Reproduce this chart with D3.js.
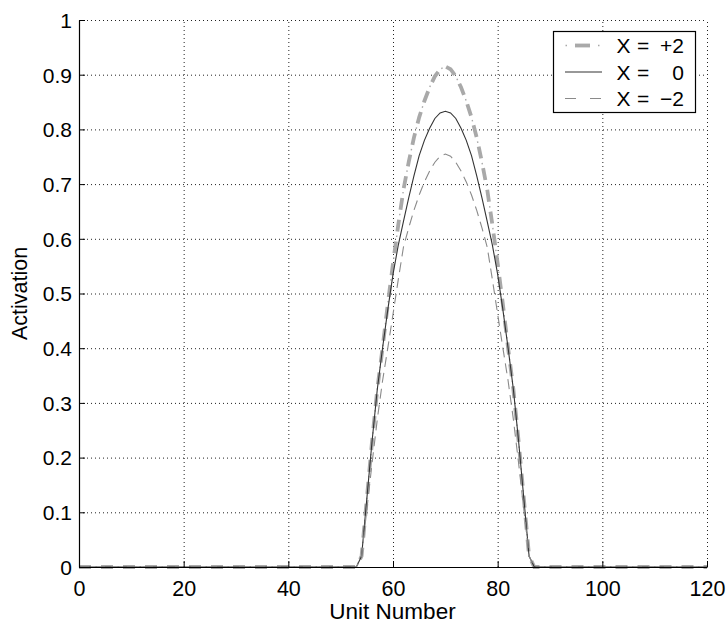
<!DOCTYPE html>
<html>
<head>
<meta charset="utf-8">
<script src="https://cdn.jsdelivr.net/npm/d3@7"></script>
<style>
  html, body { margin: 0; padding: 0; background: #fff; }
  svg { display: block; }
  text { font-family: "Liberation Sans", Arial, Helvetica, sans-serif; fill: #000; }
</style>
</head>
<body>
<svg id="chart" width="727" height="623"></svg>
<script>
// ---------------- data ----------------
const units = d3.range(0, 121); // unit numbers 0..120

const seriesPlus2 = [
  0,0,0,0,0,0,0,0,0,0,
  0,0,0,0,0,0,0,0,0,0,
  0,0,0,0,0,0,0,0,0,0,
  0,0,0,0,0,0,0,0,0,0,
  0,0,0,0,0,0,0,0,0,0,
  0,0,0,
  0,0.02,0.125,0.23,0.325,0.40,0.48,0.555,0.625,0.690,0.740,0.785,0.822,0.852,0.877,0.897,0.910,
  0.915,
  0.910,0.897,0.877,0.852,0.822,0.785,0.740,0.690,0.625,0.555,0.48,0.40,0.325,0.23,0.125,0.02,0,
  0,0,0,0,0,0,0,0,0,0,
  0,0,0,0,0,0,0,0,0,0,
  0,0,0,0,0,0,0,0,0,0,
  0,0,0
];

const seriesZero = [
  0,0,0,0,0,0,0,0,0,0,
  0,0,0,0,0,0,0,0,0,0,
  0,0,0,0,0,0,0,0,0,0,
  0,0,0,0,0,0,0,0,0,0,
  0,0,0,0,0,0,0,0,0,0,
  0,0,0,
  0,0.02,0.125,0.23,0.325,0.40,0.47,0.535,0.588,0.632,0.675,0.715,0.752,0.780,0.802,0.820,0.830,
  0.833,
  0.830,0.820,0.802,0.780,0.752,0.715,0.675,0.632,0.588,0.535,0.47,0.40,0.325,0.23,0.125,0.02,0,
  0,0,0,0,0,0,0,0,0,0,
  0,0,0,0,0,0,0,0,0,0,
  0,0,0,0,0,0,0,0,0,0,
  0,0,0
];

const seriesMinus2 = [
  0,0,0,0,0,0,0,0,0,0,
  0,0,0,0,0,0,0,0,0,0,
  0,0,0,0,0,0,0,0,0,0,
  0,0,0,0,0,0,0,0,0,0,
  0,0,0,0,0,0,0,0,0,0,
  0,0,0,
  0,0.02,0.105,0.19,0.27,0.34,0.40,0.462,0.525,0.585,0.620,0.652,0.680,0.704,0.724,0.740,0.751,
  0.755,
  0.751,0.740,0.724,0.704,0.680,0.652,0.620,0.585,0.525,0.462,0.40,0.34,0.27,0.19,0.105,0.02,0,
  0,0,0,0,0,0,0,0,0,0,
  0,0,0,0,0,0,0,0,0,0,
  0,0,0,0,0,0,0,0,0,0,
  0,0,0
];

const xTicks = [0, 20, 40, 60, 80, 100, 120];
const yTicks = [0, 0.1, 0.2, 0.3, 0.4, 0.5, 0.6, 0.7, 0.8, 0.9, 1];
const yTickLabels = ["0", "0.1", "0.2", "0.3", "0.4", "0.5", "0.6", "0.7", "0.8", "0.9", "1"];
const legendLabels = ["+2", "0", "\u22122"];
const xLabel = "Unit Number";
const yLabel = "Activation";

// ---------------- layout ----------------
const svg = d3.select("#chart");
const pL = 79, pR = 707, pT = 20, pB = 567;

const x = d3.scaleLinear().domain([0, 120]).range([pL, pR]);
const y = d3.scaleLinear().domain([0, 1]).range([pB, pT]);

// grid
const grid = svg.append("g").attr("class", "grid");
grid.append("g")
  .attr("transform", `translate(0,${pB})`)
  .call(d3.axisBottom(x).tickValues(xTicks).tickSize(-(pB - pT)).tickFormat(""))
  .call(g => g.select(".domain").remove())
  .call(g => g.selectAll("line").attr("stroke", "#222").attr("stroke-width", 1).attr("stroke-dasharray", "1,3"));
grid.append("g")
  .attr("transform", `translate(${pL},0)`)
  .call(d3.axisLeft(y).tickValues(yTicks).tickSize(-(pR - pL)).tickFormat(""))
  .call(g => g.select(".domain").remove())
  .call(g => g.selectAll("line").attr("stroke", "#222").attr("stroke-width", 1).attr("stroke-dasharray", "1,3"));

// lines
const line = (vals) => d3.line()
  .x((d, i) => x(units[i]))
  .y(d => y(d))
  .curve(d3.curveLinear)(vals);

// X = +2 : thick dashes plus thin dots (dash-dot)
svg.append("path")
  .attr("d", line(seriesPlus2))
  .attr("fill", "none")
  .attr("stroke", "#a9a9a9")
  .attr("stroke-width", 3.8)
  .attr("stroke-dasharray", "12,10");
svg.append("path")
  .attr("d", line(seriesPlus2))
  .attr("fill", "none")
  .attr("stroke", "#a9a9a9")
  .attr("stroke-width", 1.4)
  .attr("stroke-dasharray", "0,16.5,1.5,4");

// X = 0 : solid
svg.append("path")
  .attr("d", line(seriesZero))
  .attr("fill", "none")
  .attr("stroke", "#333333")
  .attr("stroke-width", 1.1);

// X = -2 : thin dashed
svg.append("path")
  .attr("d", line(seriesMinus2))
  .attr("fill", "none")
  .attr("stroke", "#8a8a8a")
  .attr("stroke-width", 1.1)
  .attr("stroke-dasharray", "10,6");

// axes
const xAxis = svg.append("g")
  .attr("transform", `translate(0,${pB})`)
  .call(d3.axisBottom(x).tickValues(xTicks).tickSizeInner(-6).tickSizeOuter(0));
xAxis.select(".domain").attr("stroke", "#000").attr("stroke-width", 1.2);
xAxis.selectAll(".tick line").attr("stroke", "#000");
xAxis.selectAll(".tick text")
  .attr("y", 28.5).attr("dy", null)
  .style("font-size", "21.5px")
  .style("font-family", '"Liberation Sans", Arial, sans-serif')
  .attr("fill", "#000");

const yAxis = svg.append("g")
  .attr("transform", `translate(${pL},0)`)
  .call(d3.axisLeft(y).tickValues(yTicks).tickSizeInner(-6).tickSizeOuter(0)
    .tickFormat((d, i) => yTickLabels[i]));
yAxis.select(".domain").attr("stroke", "#000").attr("stroke-width", 1.2);
yAxis.selectAll(".tick line").attr("stroke", "#000");
yAxis.selectAll(".tick text")
  .attr("x", -7).attr("dy", "0.35em")
  .style("font-size", "21px")
  .style("font-family", '"Liberation Sans", Arial, sans-serif')
  .attr("fill", "#000");

// axis labels
svg.append("text")
  .attr("x", (pL + pR) / 2 - 0.5).attr("y", 619)
  .attr("text-anchor", "middle")
  .style("font-size", "22.5px")
  .text(xLabel);

svg.append("text")
  .attr("transform", `translate(27,${(pT + pB) / 2}) rotate(-90)`)
  .attr("text-anchor", "middle")
  .style("font-size", "21.5px")
  .text(yLabel);

// legend
const lg = svg.append("g");
lg.append("rect")
  .attr("x", 553.5).attr("y", 31.5)
  .attr("width", 142).attr("height", 81)
  .attr("fill", "#fff").attr("stroke", "#000").attr("stroke-width", 1.2);

const rowY = [45.5, 72, 98.5];
// sample for +2: dot, thick dash, dot
lg.append("line")
  .attr("x1", 575).attr("x2", 590).attr("y1", rowY[0]).attr("y2", rowY[0])
  .attr("stroke", "#a9a9a9").attr("stroke-width", 3.8);
lg.append("line")
  .attr("x1", 565.5).attr("x2", 600).attr("y1", rowY[0]).attr("y2", rowY[0])
  .attr("stroke", "#a9a9a9").attr("stroke-width", 1.4)
  .attr("stroke-dasharray", "1.5,31,1.5");
// sample for 0
lg.append("line")
  .attr("x1", 565).attr("x2", 602).attr("y1", rowY[1]).attr("y2", rowY[1])
  .attr("stroke", "#333333").attr("stroke-width", 1.1);
// sample for -2
lg.append("line")
  .attr("x1", 565).attr("x2", 602).attr("y1", rowY[2]).attr("y2", rowY[2])
  .attr("stroke", "#8a8a8a").attr("stroke-width", 1.1)
  .attr("stroke-dasharray", "11,14,11");

legendLabels.forEach((lab, i) => {
  lg.append("text")
    .attr("x", 616.5).attr("y", rowY[i]).attr("dy", "0.36em")
    .style("font-size", "21px")
    .text("X");
  lg.append("text")
    .attr("x", 637).attr("y", rowY[i]).attr("dy", "0.36em")
    .style("font-size", "21px")
    .text("=");
  lg.append("text")
    .attr("x", 684).attr("y", rowY[i]).attr("dy", "0.36em")
    .attr("text-anchor", "end")
    .style("font-size", "21px")
    .text(lab);
});
</script>
</body>
</html>
